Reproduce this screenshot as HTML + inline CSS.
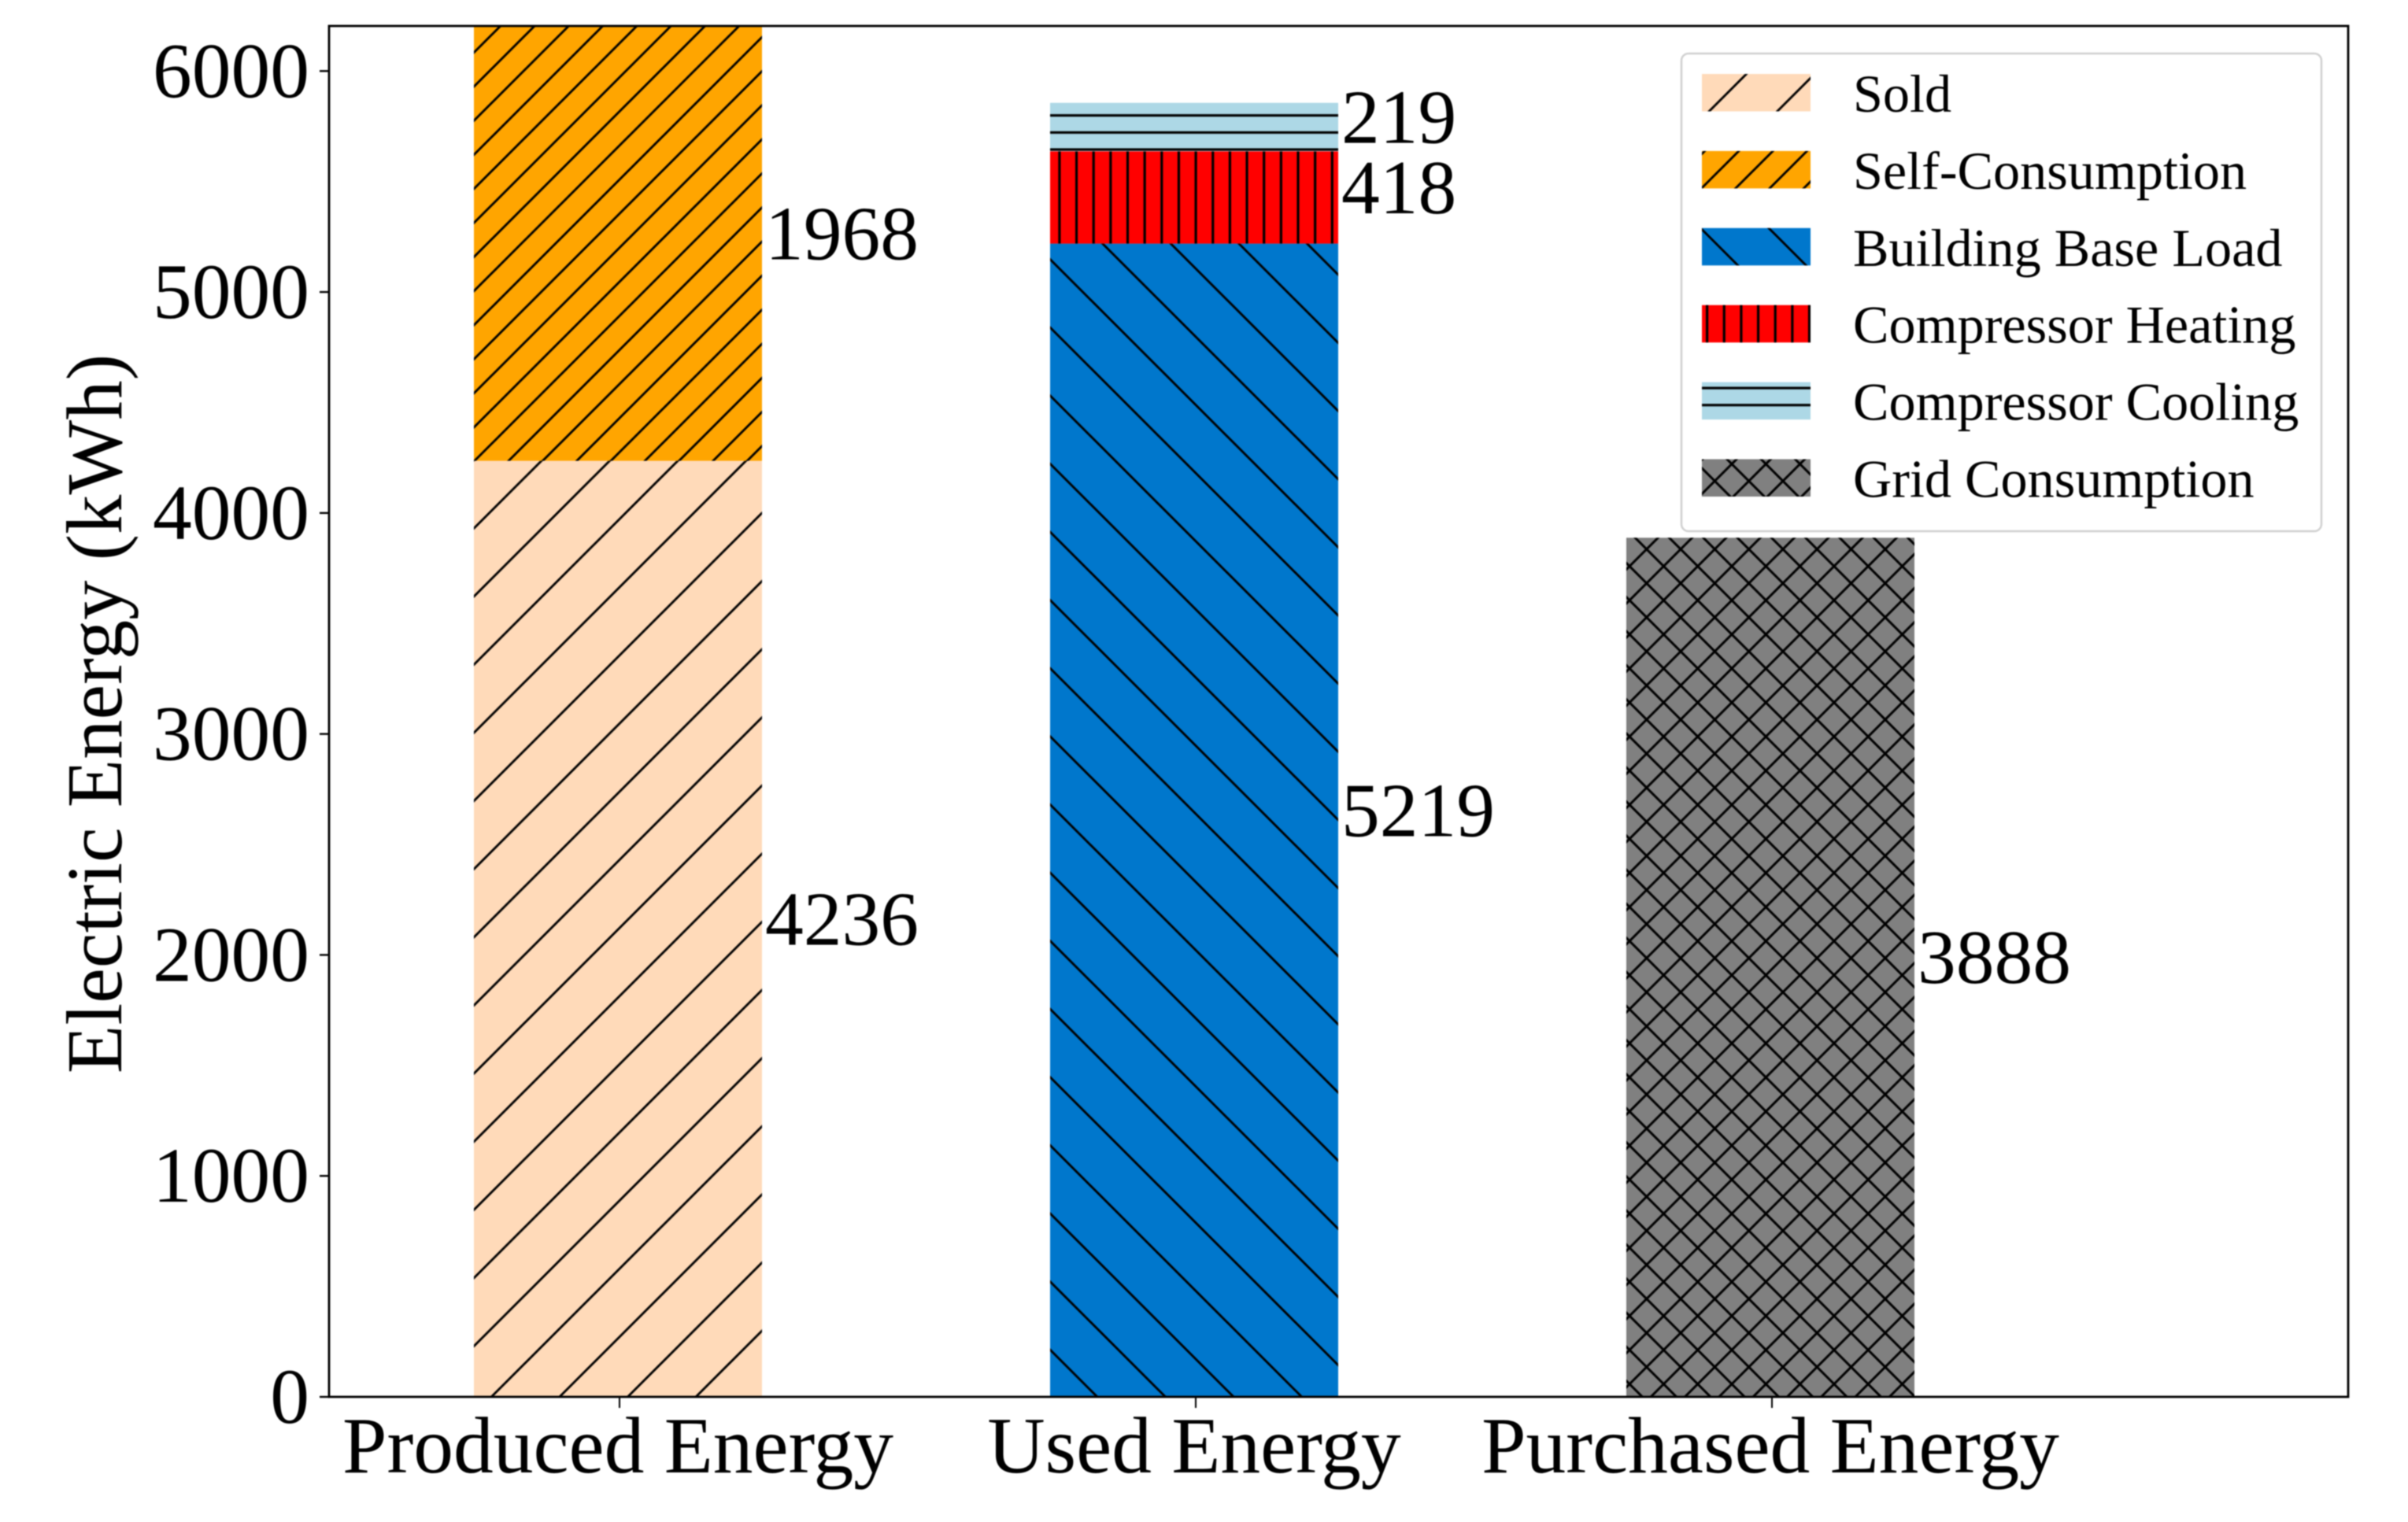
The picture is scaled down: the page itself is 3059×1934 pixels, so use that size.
<!DOCTYPE html>
<html lang="en">
<head>
<meta charset="utf-8">
<title>Electric Energy Stacked Bars</title>
<style>
  html, body { margin: 0; padding: 0; background: #fff; }
  body { width: 3059px; height: 1934px; overflow: hidden; }
  svg { display: block; filter: blur(0.7px); }
  text { font-family: "Liberation Serif", "Times New Roman", serif; fill: #000; }
</style>
</head>
<body>
<svg id="chart" xmlns="http://www.w3.org/2000/svg" width="3059" height="1934" viewBox="0 0 3059 1934">
  <defs>
    <pattern id="hatch-sold" patternUnits="userSpaceOnUse" width="86.6" height="86.6" patternTransform="translate(61,0)">
      <path d="M-10,96.6L96.6,-10M-10,10L10,-10M76.6,96.6L96.6,76.6" stroke="#000" stroke-width="2.9" fill="none"/>
    </pattern>
    <pattern id="hatch-self" patternUnits="userSpaceOnUse" width="43.3" height="43.3" patternTransform="translate(19.3,0)">
      <path d="M-5,48.3L48.3,-5M-5,5L5,-5M38.3,48.3L48.3,38.3" stroke="#000" stroke-width="2.9" fill="none"/>
    </pattern>
    <pattern id="hatch-base" patternUnits="userSpaceOnUse" width="86.6" height="86.6" patternTransform="translate(0,34.7)">
      <path d="M-10,-10L96.6,96.6M-10,76.6L10,96.6M76.6,-10L96.6,10" stroke="#000" stroke-width="2.9" fill="none"/>
    </pattern>
    <pattern id="hatch-heat" patternUnits="userSpaceOnUse" width="21.65" height="21.65" patternTransform="translate(3.6,0)">
      <path d="M0,-2V24" stroke="#000" stroke-width="3.2" fill="none"/>
      <path d="M21.65,-2V24" stroke="#000" stroke-width="3.2" fill="none"/>
    </pattern>
    <pattern id="hatch-cool" patternUnits="userSpaceOnUse" width="21.65" height="21.65" patternTransform="translate(0,16.8)">
      <path d="M-2,0H24" stroke="#000" stroke-width="3.2" fill="none"/>
      <path d="M-2,21.65H24" stroke="#000" stroke-width="3.2" fill="none"/>
    </pattern>
    <pattern id="hatch-grid-back" patternUnits="userSpaceOnUse" width="43.3" height="43.3" patternTransform="translate(0,35)">
      <path d="M-5,-5L48.3,48.3M-5,38.3L5,48.3M38.3,-5L48.3,5" stroke="#000" stroke-width="3" fill="none"/>
    </pattern>
    <pattern id="hatch-grid-fwd" patternUnits="userSpaceOnUse" width="43.3" height="43.3" patternTransform="translate(18.4,0)">
      <path d="M-5,48.3L48.3,-5M-5,5L5,-5M38.3,48.3L48.3,38.3" stroke="#000" stroke-width="3" fill="none"/>
    </pattern>
    <clipPath id="plot-clip"><rect x="418" y="33" width="2565" height="1742"/></clipPath>
  </defs>
  <rect x="0" y="0" width="3059" height="1934" fill="#ffffff"/>
  <g id="bars" clip-path="url(#plot-clip)"></g>
  <g id="labels"></g>
  <g id="axes"></g>
  <text transform="translate(154,907) rotate(-90)" text-anchor="middle" font-size="100.6">Electric Energy (kWh)</text>
  <g id="legend"></g>
</svg>
<script>
const categories = ['Produced Energy', 'Used Energy', 'Purchased Energy'];
const yTicks = [0, 1000, 2000, 3000, 4000, 5000, 6000];
const yTickLabels = ['0', '1000', '2000', '3000', '4000', '5000', '6000'];
const seriesNames = ['Sold', 'Self-Consumption', 'Building Base Load', 'Compressor Heating', 'Compressor Cooling', 'Grid Consumption'];
const soldValues = [4236, 0, 0];
const selfConsumptionValues = [1968, 0, 0];
const baseLoadValues = [0, 5219, 0];
const heatingValues = [0, 418, 0];
const coolingValues = [0, 219, 0];
const gridValues = [0, 0, 3888];
const seriesValues = [soldValues, selfConsumptionValues, baseLoadValues, heatingValues, coolingValues, gridValues];
const seriesColors = ['#FFDAB9', '#FFA500', '#0077CC', '#FF0000', '#ADD8E6', '#808080'];
const seriesHatches = [['hatch-sold'], ['hatch-self'], ['hatch-base'], ['hatch-heat'], ['hatch-cool'], ['hatch-grid-back', 'hatch-grid-fwd']];
const seriesKeys = ['sold', 'self-consumption', 'building-base-load', 'compressor-heating', 'compressor-cooling', 'grid-consumption'];

const NS = 'http://www.w3.org/2000/svg';
const plot = { left: 418, right: 2983, top: 33, bottom: 1775 };
const yMax = 6204;
const barWidth = 366;

function yScale(v) {
  return plot.bottom - (v / yMax) * (plot.bottom - plot.top);
}
function xScale(i) {
  return 787 + 732 * i;
}
function mk(tag, attrs, parent, content) {
  const el = document.createElementNS(NS, tag);
  for (const k in attrs) el.setAttribute(k, attrs[k]);
  if (content !== undefined) el.textContent = content;
  parent.appendChild(el);
  return el;
}

const barsG = document.getElementById('bars');
const labelsG = document.getElementById('labels');
const axesG = document.getElementById('axes');
const legendG = document.getElementById('legend');

categories.forEach(function (cat, ci) {
  let base = 0;
  seriesValues.forEach(function (vals, si) {
    const v = vals[ci];
    if (!v) return;
    const yTop = yScale(base + v);
    const yBot = yScale(base);
    const x = xScale(ci) - 2 - barWidth / 2;
    const r = mk('rect', { x: x, y: yTop, width: barWidth, height: yBot - yTop, fill: seriesColors[si] }, barsG);
    
    
    seriesHatches[si].forEach(function (h) {
      const o = mk('rect', { x: x, y: yTop, width: barWidth, height: yBot - yTop, fill: 'url(#' + h + ')' }, barsG);
      
      
    });
    const t = mk('text', { x: x + barWidth + 4, y: yScale(base + v / 2) + 20, 'font-size': 97.5 }, labelsG, String(v));
    
    
    base += v;
  });
  const tick = mk('line', { x1: xScale(ci), x2: xScale(ci), y1: plot.bottom, y2: plot.bottom + 14, stroke: '#000', 'stroke-width': 2 }, axesG);
  
  
  const lab = mk('text', { x: xScale(ci) - 2, y: 1871, 'text-anchor': 'middle', 'font-size': 101.5 }, axesG, cat);
  
  
});

yTicks.forEach(function (tv, i) {
  const tick = mk('line', { x1: plot.left - 12, x2: plot.left, y1: yScale(tv), y2: yScale(tv), stroke: '#000', 'stroke-width': 2.4 }, axesG);
  
  
  const lab = mk('text', { x: 393, y: yScale(tv) + 33, 'text-anchor': 'end', 'font-size': 99.5 }, axesG, yTickLabels[i]);
  
  
});

const frame = mk('rect', { x: plot.left, y: plot.top, width: plot.right - plot.left, height: plot.bottom - plot.top, fill: 'none', stroke: '#000', 'stroke-width': 2.8 }, axesG);



const legendBox = mk('rect', { x: 2136, y: 68, width: 813, height: 607, rx: 9, ry: 9, fill: '#fff', 'fill-opacity': 0.9, stroke: '#d0d0d0', 'stroke-width': 2.5 }, legendG);



seriesNames.forEach(function (name, i) {
  const y = 94 + i * 97.9;
  const swatch = mk('rect', { x: 2162, y: y, width: 138, height: 47.5, fill: seriesColors[i] }, legendG);
  
  
  seriesHatches[i].forEach(function (h) {
    const o = mk('rect', { x: 2162, y: y, width: 138, height: 47.5, fill: 'url(#' + h + ')' }, legendG);
    
    
  });
  const t = mk('text', { x: 2354, y: y + 48, 'font-size': 68.2 }, legendG, name);
  
  
});
</script>
</body>
</html>
